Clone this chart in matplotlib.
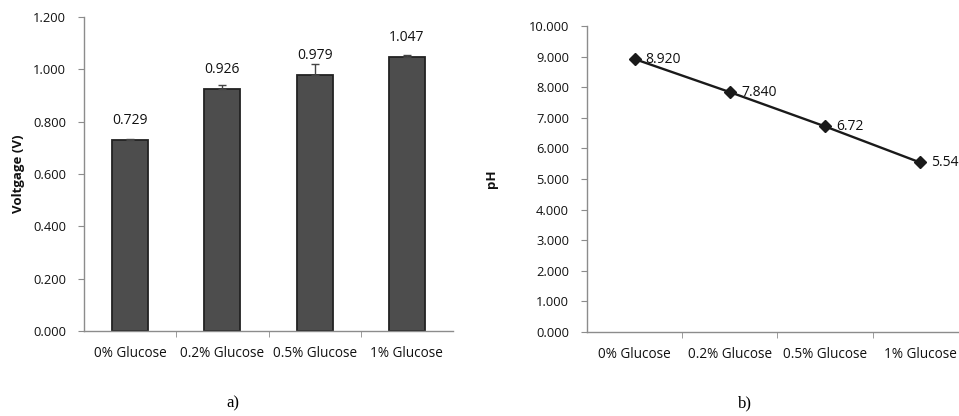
import matplotlib
matplotlib.use("Agg")
import matplotlib.pyplot as plt

categories = ["0% Glucose", "0.2% Glucose", "0.5% Glucose", "1% Glucose"]
voltage = [0.729, 0.926, 0.979, 1.047]
voltage_err = [0.006, 0.015, 0.040, 0.008]
voltage_labels = ["0.729", "0.926", "0.979", "1.047"]
ph = [8.920, 7.840, 6.72, 5.54]
ph_labels = ["8.920", "7.840", "6.72", "5.54"]

plt.rcParams["font.family"] = ["Open Sans", "DejaVu Sans"]
AXIS_GRAY = "#8c8c8c"
TEXT = "#111111"


def style_axes(ax, yticks, fmt):
    for side in ["top", "right"]:
        ax.spines[side].set_visible(False)
    for side in ["left", "bottom"]:
        ax.spines[side].set_color(AXIS_GRAY)
        ax.spines[side].set_linewidth(1.0)
    ax.set_xlim(-0.5, len(categories) - 0.5)
    ax.set_xticks(range(len(categories)))
    ax.set_xticklabels(categories, fontsize=9.8, color=TEXT)
    ax.set_xticks([i + 0.5 for i in range(len(categories) - 1)], minor=True)
    ax.tick_params(axis="x", which="major", length=0, pad=11)
    ax.tick_params(axis="x", which="minor", length=4, color=AXIS_GRAY, direction="out")
    ax.set_yticks(yticks)
    ax.set_yticklabels([fmt.format(v) for v in yticks], fontsize=9.3, color=TEXT)
    ax.tick_params(axis="y", length=4, color=AXIS_GRAY, direction="out", pad=9)


fig = plt.figure(figsize=(9.59, 4.16), dpi=100)

# a) voltage bars
ax1 = fig.add_axes([0.0876, 0.2043, 0.3848, 0.7548])
x = list(range(len(categories)))
ax1.bar(x, voltage, width=0.39, color="#4d4d4d", edgecolor="#222222", linewidth=1.3)
ax1.errorbar(x, voltage, yerr=[[0] * len(voltage), voltage_err], fmt="none",
             ecolor="#444444", elinewidth=1.0, capsize=3)
for xi, v, lab in zip(x, voltage, voltage_labels):
    ax1.text(xi, v + 0.045, lab, ha="center", va="bottom", fontsize=10, color=TEXT)
ax1.set_ylim(0, 1.2)
style_axes(ax1, [0, 0.2, 0.4, 0.6, 0.8, 1.0, 1.2], "{:.3f}")
ax1.set_ylabel("Voltgage (V)", fontsize=9.5, fontweight="bold", color=TEXT, labelpad=6)

# b) pH line
ax2 = fig.add_axes([0.6121, 0.2019, 0.397, 0.7356])
ax2.plot(x, ph, color="#1a1a1a", linewidth=1.7, marker="D", markersize=6,
         markerfacecolor="#1a1a1a", markeredgecolor="#1a1a1a", clip_on=False)
for xi, v, lab in zip(x, ph, ph_labels):
    ax2.annotate(lab, (xi, v), xytext=(8, 0), textcoords="offset points",
                 ha="left", va="center", fontsize=10, color=TEXT)
ax2.set_ylim(0, 10)
style_axes(ax2, list(range(0, 11)), "{:.3f}")
ax2.set_ylabel("pH", fontsize=9.5, fontweight="bold", color=TEXT, labelpad=22)

fig.text(0.243, 0.03, "a)", ha="center", va="center", fontsize=12,
         family="Liberation Serif")
fig.text(0.777, 0.03, "b)", ha="center", va="center", fontsize=12,
         family="Liberation Serif")

fig.savefig("out.png", dpi=100)
